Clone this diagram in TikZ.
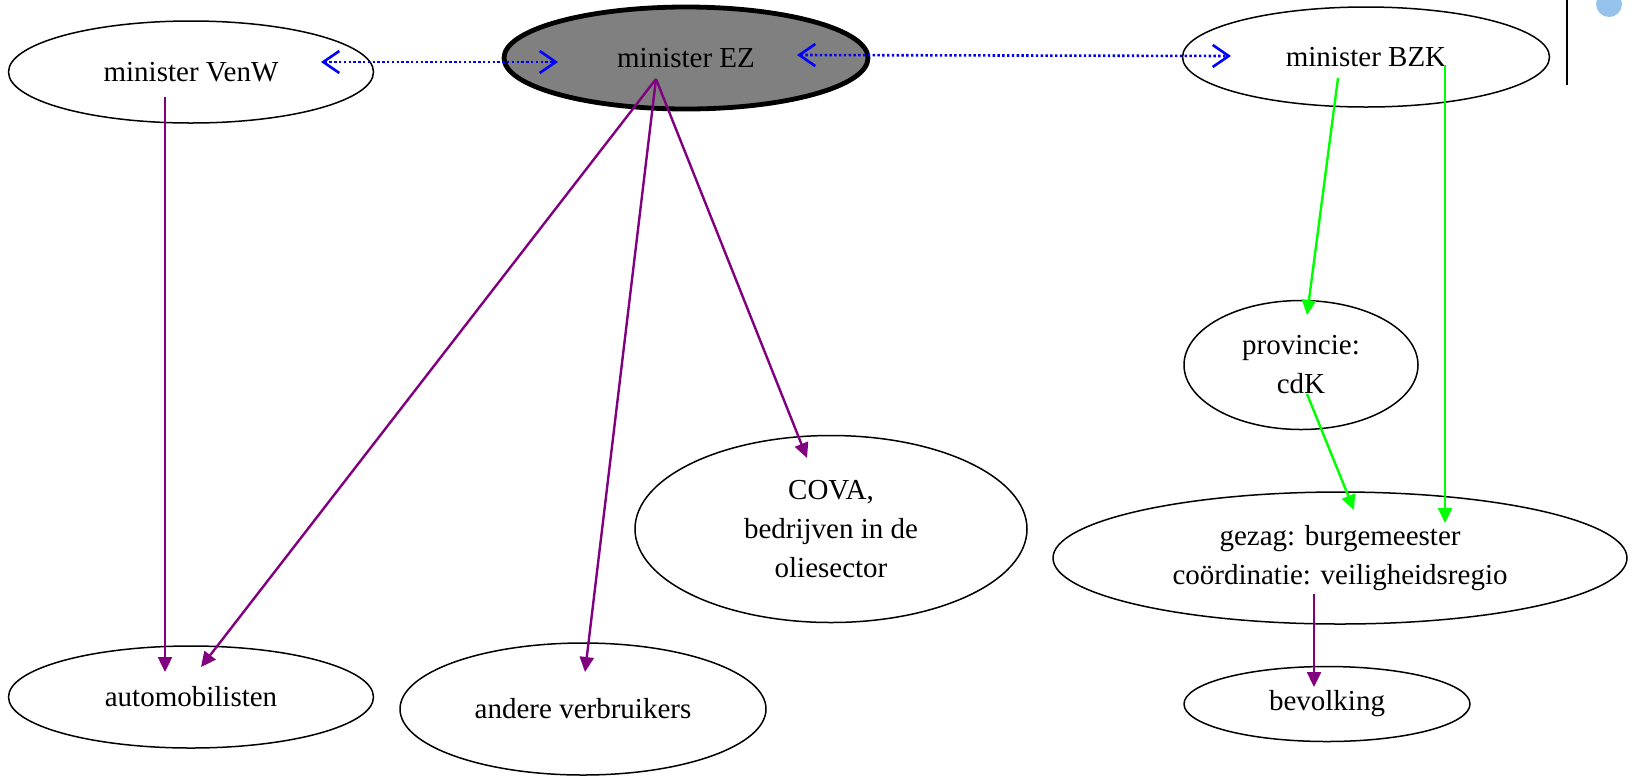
\documentclass[tikz,border=0pt]{standalone}
\usepackage{fontspec}
\setmainfont{Liberation Serif}
\usetikzlibrary{arrows.meta,shapes.geometric}
\definecolor{OILPurple}{HTML}{800080}
\definecolor{OILGreen}{HTML}{00FF00}
\definecolor{OILBlue}{HTML}{0000FF}
\definecolor{OILGray}{HTML}{808080}
\definecolor{OILDot}{HTML}{96C3EB}
\tikzset{
  oilnode/.style={
    draw=black,
    ellipse,
    line width=0.75pt,
    inner sep=0pt,
    align=center,
    font=\fontsize{14.5}{19.5}\selectfont
  },
  oillead/.style={
    oilnode,
    fill=OILGray,
    line width=2.4pt
  },
  oilflow/.style={-{Triangle[length=7.5pt,width=7pt]},draw=OILPurple,line width=1.2pt},
  oilgreen/.style={-{Triangle[length=7.5pt,width=7pt]},draw=OILGreen,line width=1.2pt},
  oilpeer/.style={{Straight Barb[length=8pt,width=11pt]}-{Straight Barb[length=8pt,width=11pt]},
    draw=OILBlue,line width=1.3pt,dash pattern=on 1.2pt off 1.2pt}
}

\begin{document}
\begin{tikzpicture}[x=0.5pt,y=-0.5pt]
  \useasboundingbox (0,0) rectangle (1633,778);
  % top row
  \node[oilnode,minimum width=182.5pt,minimum height=51pt] (venw) at (191,72) {minister VenW};
  \node[oillead,minimum width=182pt,minimum height=51pt] (ez) at (686,58) {minister EZ};
  \node[oilnode,minimum width=183.5pt,minimum height=50pt] (bzk) at (1366,57) {minister BZK};
  % right column
  \node[oilnode,minimum width=117pt,minimum height=64.5pt] (cdk) at (1301,365) {provincie:\\cdK};
  \node[oilnode,minimum width=287pt,minimum height=66pt] (gezag) at (1340,558) {gezag: burgemeester\\co\"ordinatie: veiligheidsregio};
  \node[oilnode,minimum width=143pt,minimum height=37.5pt] (bevolking) at (1327,704) {bevolking};
  % middle and bottom
  \node[oilnode,minimum width=196pt,minimum height=93.5pt] (cova) at (831,529) {COVA,\\bedrijven in de\\oliesector};
  \node[oilnode,minimum width=182.5pt,minimum height=51pt] (auto) at (191,697) {automobilisten};
  \node[oilnode,minimum width=183pt,minimum height=66pt] (andere) at (583,709) {andere verbruikers};
  % page marks
  \draw[line width=1.3pt] (1567,0) -- (1567,85);
  \fill[OILDot] (1609,4) circle (13);
  % connectors
  \draw[oilpeer] ([shift={(130,-10)}]venw.center) -- ([shift={(-128,4)}]ez.center);
  \draw[oilpeer] ([shift={(111,-3)}]ez.center) -- ([shift={(-135,-1)}]bzk.center);
  \draw[oilflow] ([shift={(-26,25)}]venw.center) -- ([shift={(-26,-25)}]auto.center);
  \draw[oilflow] ([shift={(-30,21)}]ez.center) -- ([shift={(10,-30)}]auto.center);
  \draw[oilflow] ([shift={(-30,21)}]ez.center) -- ([shift={(2,-37)}]andere.center);
  \draw[oilflow] ([shift={(-30,21)}]ez.center) -- ([shift={(-24,-71)}]cova.center);
  \draw[oilgreen] ([shift={(-28,21)}]bzk.center) -- ([shift={(6,-50)}]cdk.center);
  \draw[oilgreen] ([shift={(79,8)}]bzk.center) -- ([shift={(105,-35)}]gezag.center);
  \draw[oilgreen] ([shift={(6,29)}]cdk.center) -- ([shift={(14,-48)}]gezag.center);
  \draw[oilflow] ([shift={(-26,36)}]gezag.center) -- ([shift={(-13,-17)}]bevolking.center);
\end{tikzpicture}
\end{document}
